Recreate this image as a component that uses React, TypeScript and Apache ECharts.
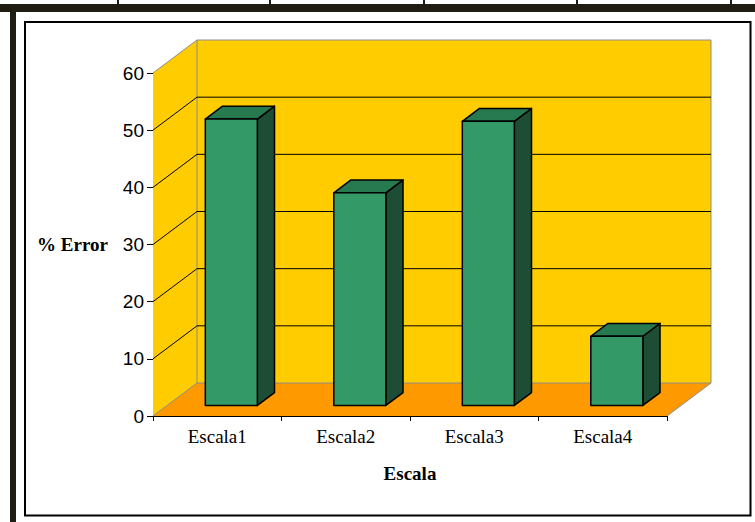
import React, { useEffect, useRef } from "react";
import * as echarts from "echarts";

const CATEGORIES = ["Escala1", "Escala2", "Escala3", "Escala4"];
const VALUES = [50.1, 37.2, 49.7, 12.1];
const Y_MIN = 0;
const Y_MAX = 60;
const Y_STEP = 10;
const GRID_VALUES = [10, 20, 30, 40, 50];
const X_TITLE = "Escala";
const Y_TITLE = "% Error";

// 3D look (pixels / fractions)
const DX = 44;
const DY = -33;
const F1 = 0.32;
const F2 = 0.71;
const BAR_W = 0.405;

const WALL = "#FFCC00";
const FLOOR = "#FF9900";
const GREY = "#8c8c8c";
const FRONT = "#339966";
const TOP = "#277a50";
const SIDE = "#1e4d35";
const DARK = "#1f1c12";

export default function App() {
  const ref = useRef<HTMLDivElement>(null);
  useEffect(() => {
    const chart = echarts.init(ref.current!, null, { renderer: "svg" });

    const renderWalls = (params: any, api: any) => {
      const cs = params.coordSys;
      const xl = cs.x;
      const xr = cs.x + cs.width;
      const y0 = api.coord([0, Y_MIN])[1];
      const yT = api.coord([0, Y_MAX])[1];
      const edge = { stroke: GREY, fill: "none", lineWidth: 1 };
      return {
        type: "group",
        children: [
          {
            type: "polygon",
            shape: { points: [[xl, y0], [xl, yT], [xl + DX, yT + DY], [xl + DX, y0 + DY]] },
            style: { fill: WALL },
          },
          {
            type: "rect",
            shape: { x: xl + DX, y: yT + DY, width: xr - xl, height: y0 - yT },
            style: { fill: WALL },
          },
          {
            type: "polygon",
            shape: { points: [[xl, y0], [xr, y0], [xr + DX, y0 + DY], [xl + DX, y0 + DY]] },
            style: { fill: FLOOR },
          },
          {
            type: "polyline",
            shape: { points: [[xl, yT], [xl + DX, yT + DY], [xr + DX, yT + DY], [xr + DX, y0 + DY], [xr, y0]] },
            style: edge,
          },
          {
            type: "polyline",
            shape: { points: [[xl, y0], [xl + DX, y0 + DY], [xr + DX, y0 + DY]] },
            style: edge,
          },
          {
            type: "line",
            shape: { x1: xl + DX, y1: yT + DY, x2: xl + DX, y2: y0 + DY },
            style: edge,
          },
        ],
      };
    };

    const renderGrid = (params: any, api: any) => {
      const cs = params.coordSys;
      const xl = cs.x;
      const xr = cs.x + cs.width;
      const y = api.coord([0, api.value(1)])[1];
      const st = { stroke: "#000", lineWidth: 1 };
      return {
        type: "group",
        children: [
          { type: "line", shape: { x1: xl, y1: y, x2: xl + DX, y2: y + DY }, style: st },
          { type: "line", shape: { x1: xl + DX, y1: y + DY, x2: xr + DX, y2: y + DY }, style: st },
        ],
      };
    };

    const renderBars = (params: any, api: any) => {
      const i = api.value(0);
      const v = api.value(1);
      const c = api.coord([i, v]);
      const b = api.coord([i, Y_MIN]);
      const bw = api.size([1, 0])[0];
      const w = bw * BAR_W;
      const xL = c[0] - w / 2 + DX * F1;
      const xR = xL + w;
      const yTop = c[1] + DY * F1;
      const yBot = b[1] + DY * F1;
      const sx = DX * (F2 - F1);
      const sy = DY * (F2 - F1);
      const ls = { stroke: "#000", lineWidth: 1.5, lineJoin: "round" };
      return {
        type: "group",
        children: [
          {
            type: "polygon",
            shape: { points: [[xR, yTop], [xR + sx, yTop + sy], [xR + sx, yBot + sy], [xR, yBot]] },
            style: { fill: SIDE, ...ls },
          },
          {
            type: "polygon",
            shape: { points: [[xL, yTop], [xL + sx, yTop + sy], [xR + sx, yTop + sy], [xR, yTop]] },
            style: { fill: TOP, ...ls },
          },
          {
            type: "rect",
            shape: { x: xL, y: yTop, width: w, height: yBot - yTop },
            style: { fill: FRONT, ...ls },
          },
        ],
      };
    };

    const dividers = [118, 270, 424, 577, 731].map((x) => ({
      type: "rect",
      shape: { x: x - 1, y: 0, width: 2, height: 5 },
      style: { fill: DARK },
      silent: true,
    }));

    chart.setOption({
      animation: false,
      backgroundColor: "#ffffff",
      grid: { left: 153, right: 88, top: 73, bottom: 106, containLabel: false },
      xAxis: {
        type: "category",
        data: CATEGORIES,
        boundaryGap: true,
        axisLine: { show: true, lineStyle: { color: "#000", width: 1 } },
        axisTick: { show: true, length: 5, lineStyle: { color: "#000" } },
        axisLabel: { fontFamily: "Liberation Serif", fontSize: 19, color: "#000", margin: 11 },
        splitLine: { show: false },
        name: X_TITLE,
        nameLocation: "middle",
        nameGap: 48,
        nameTextStyle: { fontFamily: "Liberation Serif", fontWeight: "bold", fontSize: 19, color: "#000" },
      },
      yAxis: {
        type: "value",
        min: Y_MIN,
        max: Y_MAX,
        interval: Y_STEP,
        axisLine: { show: true, lineStyle: { color: "#000", width: 1 } },
        axisTick: { show: true, length: 6, lineStyle: { color: "#000" } },
        axisLabel: { fontFamily: "Liberation Sans", fontSize: 19, color: "#000", margin: 9 },
        splitLine: { show: false },
        name: Y_TITLE,
        nameLocation: "middle",
        nameRotate: 0,
        nameGap: 45,
        nameTextStyle: { fontFamily: "Liberation Serif", fontWeight: "bold", fontSize: 19, color: "#000" },
      },
      graphic: [
        { type: "rect", shape: { x: 0, y: 4, width: 755, height: 8 }, style: { fill: DARK }, silent: true },
        { type: "rect", shape: { x: 10, y: 4, width: 6, height: 518 }, style: { fill: DARK }, silent: true },
        ...dividers,
        {
          type: "rect",
          shape: { x: 25, y: 22, width: 725.5, height: 493.5 },
          style: { fill: "none", stroke: "#000", lineWidth: 2 },
          silent: true,
        },
      ],
      series: [
        {
          type: "custom",
          name: "walls",
          clip: false,
          silent: true,
          renderItem: renderWalls,
          data: [[0, Y_MIN]],
          z: 1,
        },
        {
          type: "custom",
          name: "grid",
          clip: false,
          silent: true,
          renderItem: renderGrid,
          data: GRID_VALUES.map((v) => [0, v]),
          z: 2,
        },
        {
          type: "custom",
          name: "% Error",
          clip: false,
          renderItem: renderBars,
          data: CATEGORIES.map((_, i) => [i, VALUES[i]]),
          z: 3,
        },
      ],
    });
    return () => chart.dispose();
  }, []);
  return <div ref={ref} style={{ position: "fixed", left: 0, top: 0, width: 755, height: 522 }} />;
}
